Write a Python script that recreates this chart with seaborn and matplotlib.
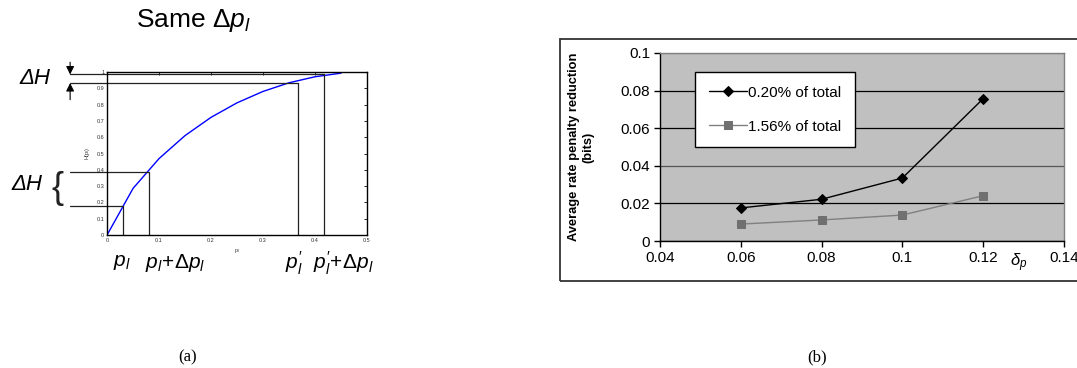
import matplotlib
matplotlib.use("Agg")
import matplotlib.pyplot as plt
import seaborn as sns
from matplotlib.patches import Rectangle

# (a) entropy curve H(p) and the construction lines
p_vals = [0, 0.05, 0.1, 0.15, 0.2, 0.25, 0.3, 0.35, 0.4, 0.45]
H_vals = [0, 0.286, 0.469, 0.610, 0.722, 0.811, 0.881, 0.934, 0.971, 0.993]
p_marks = [0.03, 0.08, 0.367, 0.418]
H_marks = [0.178, 0.387, 0.932, 0.985]
a_xticks = [0, 0.1, 0.2, 0.3, 0.4, 0.5]
a_xlabels = ["0", "0.1", "0.2", "0.3", "0.4", "0.5"]
a_yticks = [0, 0.1, 0.2, 0.3, 0.4, 0.5, 0.6, 0.7, 0.8, 0.9, 1.0]
a_ylabels = ["0", "0.1", "0.2", "0.3", "0.4", "0.5", "0.6", "0.7", "0.8", "0.9", "1"]
bottom_labels = [r"$p_l$", r"$p_l\!+\!\Delta p_l$", r"$p_l^{\prime}$", r"$p_l^{\prime}\!+\!\Delta p_l$"]

# (b) rate penalty reduction
delta_p = [0.06, 0.08, 0.1, 0.12]
red_020 = [0.0176, 0.0222, 0.0335, 0.0757]
red_156 = [0.0090, 0.0112, 0.0138, 0.0241]
b_xticks = [0.04, 0.06, 0.08, 0.1, 0.12, 0.14]
b_xlabels = ["0.04", "0.06", "0.08", "0.1", "0.12", "0.14"]
b_yticks = [0, 0.02, 0.04, 0.06, 0.08, 0.1]
b_ylabels = ["0", "0.02", "0.04", "0.06", "0.08", "0.1"]

sns.set_style("white")
plt.rcParams["font.family"] = ["Liberation Sans", "DejaVu Sans"]
plt.rcParams["mathtext.fontset"] = "custom"
plt.rcParams["mathtext.rm"] = "Liberation Sans"
plt.rcParams["mathtext.it"] = "Liberation Sans:italic"
plt.rcParams["mathtext.bf"] = "Liberation Sans:bold"
plt.rcParams["text.color"] = "black"
plt.rcParams["axes.labelcolor"] = "black"
plt.rcParams["xtick.color"] = "black"
plt.rcParams["ytick.color"] = "black"

fig = plt.figure(figsize=(10.77, 3.68), dpi=100)

# ---------- (a) ----------
ax1 = fig.add_axes([0.0994, 0.3614, 0.2414, 0.4429])
sns.lineplot(x=p_vals, y=H_vals, color="blue", lw=1, ax=ax1)
ax1.set_xlim(0, 0.5)
ax1.set_ylim(0, 1)
ax1.set_xticks(a_xticks, a_xlabels)
ax1.set_yticks(a_yticks, a_ylabels)
ax1.tick_params(direction="in", length=2, width=0.6, labelsize=4, pad=2,
                top=True, right=True, labelcolor="#333333")
for s in ax1.spines.values():
    s.set_color("black")
    s.set_linewidth(1)
ax1.set_xlabel(r"p$_l$", fontsize=4, labelpad=3, color="#333333")
ax1.set_ylabel(r"H(p$_l$)", fontsize=4, labelpad=3, color="#333333")

lead_x = -0.071
for pm, hm in zip(p_marks, H_marks):
    ax1.plot([pm, pm], [0, hm], color="#222222", lw=0.9, clip_on=False)
    ax1.plot([lead_x, pm], [hm, hm], color="#222222", lw=0.9, clip_on=False)

arrow = dict(arrowstyle="-|>", color="black", lw=0.8, mutation_scale=12,
             shrinkA=0, shrinkB=0)
ax1.annotate("", xy=(lead_x, H_marks[3]), xytext=(lead_x, 1.06),
             arrowprops=arrow, annotation_clip=False)
ax1.annotate("", xy=(lead_x, H_marks[2]), xytext=(lead_x, 0.83),
             arrowprops=arrow, annotation_clip=False)

fig.text(194 / 1077, 1 - 20 / 368, r"Same $\Delta p_l$", fontsize=19,
         ha="center", va="center")
fig.text(35 / 1077, 1 - 78 / 368, "ΔH", fontsize=16, fontstyle="italic",
         ha="center", va="center")
fig.text(27 / 1077, 1 - 184 / 368, "ΔH", fontsize=16, fontstyle="italic",
         ha="center", va="center")
fig.text(57 / 1077, 1 - 189 / 368, "{", fontsize=26, ha="center", va="center",
         color="#222222")

label_x = [122, 175, 294, 343]
for lx, lab in zip(label_x, bottom_labels):
    fig.text(lx / 1077, 1 - 263 / 368, lab, fontsize=15, ha="center", va="center")

# ---------- (b) ----------
fig.patches.append(Rectangle((560 / 1077, 1 - 281 / 368), 0.6, 242 / 368,
                             transform=fig.transFigure, fill=False,
                             edgecolor="#333333", lw=1.3))

ax2 = fig.add_axes([0.6128, 0.3451, 0.3751, 0.5109])
ax2.set_facecolor("#c0c0c0")
sns.lineplot(x=delta_p, y=red_020, color="black", lw=1, marker="D",
             markersize=5, markeredgecolor="black", label="0.20% of total", ax=ax2)
sns.lineplot(x=delta_p, y=red_156, color="#808080", lw=1, marker="s",
             markersize=6, markeredgecolor="#707070", markerfacecolor="#707070",
             label="1.56% of total", ax=ax2)
ax2.set_xlim(0.04, 0.14)
ax2.set_ylim(0, 0.1)
ax2.set_xticks(b_xticks, b_xlabels)
ax2.set_yticks(b_yticks, b_ylabels)
ax2.tick_params(direction="out", length=4, width=1, labelsize=11, pad=3,
                left=True, bottom=True, color="black")
ax2.set_axisbelow(True)
ax2.yaxis.grid(True, color="black", lw=0.9)
grid = ax2.get_ygridlines()
grid[2].set_color("#555555")
grid[-1].set_color("#808080")
ax2.spines["left"].set_color("black")
ax2.spines["bottom"].set_color("black")
ax2.spines["top"].set_color("#808080")
ax2.spines["right"].set_color("#808080")
for s in ax2.spines.values():
    s.set_linewidth(1)

ax2.set_ylabel("Average rate penalty reduction\n(bits)", fontsize=9.3,
               fontweight="bold", linespacing=1.2)
ax2.yaxis.set_label_coords(-0.163, 0.5)
ax2.text(0.889, -0.117, r"$\delta_p$", transform=ax2.transAxes, fontsize=12,
         ha="center", va="center")

leg = ax2.legend(loc="upper left", bbox_to_anchor=(0.0866, 0.899),
                 borderaxespad=0, fontsize=11, handlelength=2.5,
                 handletextpad=0.1, borderpad=0.9, labelspacing=1.3,
                 fancybox=False, framealpha=1, edgecolor="black")
leg.get_frame().set_linewidth(1)

fig.text(188 / 1077, 1 - 357 / 368, "(a)", fontsize=12,
         family="Liberation Serif", ha="center", va="center")
fig.text(817 / 1077, 1 - 357 / 368, "(b)", fontsize=12,
         family="Liberation Serif", ha="center", va="center")

fig.savefig("out.png", dpi=100)
